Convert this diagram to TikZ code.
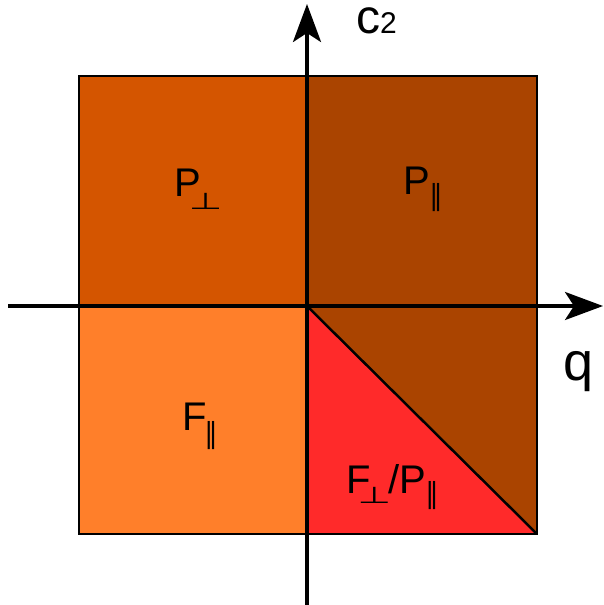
\documentclass[tikz,border=0pt]{standalone}
\usepackage{fontspec}
\setmainfont{Liberation Sans}
\newfontfamily\symf{DejaVu Sans}
\usetikzlibrary{arrows.meta}
\definecolor{cTL}{HTML}{D45500}
\definecolor{cTR}{HTML}{AA4400}
\definecolor{cBL}{HTML}{FF7F2A}
\definecolor{cTri}{HTML}{FF2A2A}
\newcommand{\perpsub}[1]{\raisebox{#1}{\symf\fontsize{22}{22}\selectfont\scalebox{1.75}[1.05]{⊥}}}
\newcommand{\parsub}[1]{\raisebox{#1}{\symf\fontsize{22}{22}\selectfont\scalebox{1.25}[1.3]{∥}}}
\begin{document}
\begin{tikzpicture}[x=1pt,y=-1pt,
  axis/.style={line width=3.5pt,-{Stealth[length=38pt,width=28pt,inset=9pt]}},
  lab/.style={inner sep=0pt,anchor=base west,font=\fontsize{40}{48}\selectfont}]
\useasboundingbox (0,0) rectangle (603,605);
\fill[cTL] (79,76) rectangle (307,306);
\fill[cTR] (307,76) rectangle (537,534);
\fill[cBL] (79,306) rectangle (307,534);
\fill[cTri] (307,306) -- (537,534) -- (307,534) -- cycle;
\draw[line width=1.5pt] (79,76) rectangle (537,534);
\coordinate (o) at (307,306);
\coordinate (br) at (537,534);
\draw[line width=2.5pt] (o) -- (br);
\coordinate (xs) at (8,306);
\coordinate (xe) at (603,306);
\coordinate (ys) at (307,605);
\coordinate (ye) at (307,4);
\draw[axis] (xs) -- (xe);
\draw[axis] (ys) -- (ye);
\node[lab] (pperp) at (174,196) {P\kern-12pt\perpsub{-13pt}};
\node[lab] (ppar) at (403,194) {P\kern0pt\parsub{-11pt}};
\node[lab] (fpar) at (182,430) {F\kern-2pt\parsub{-13pt}};
\node[lab] (fp) at (346,493) {F\kern-13pt\perpsub{-10pt}\kern-3pt/P\kern0pt\parsub{-10pt}};
\node[inner sep=0pt,anchor=base west,font=\fontsize{48}{52}\selectfont] (c2) at (356,33) {c{\fontsize{30}{30}\selectfont 2}};
\node[inner sep=0pt,anchor=base west,font=\fontsize{54}{60}\selectfont] (q) at (563,380) {q};
\end{tikzpicture}
\end{document}
